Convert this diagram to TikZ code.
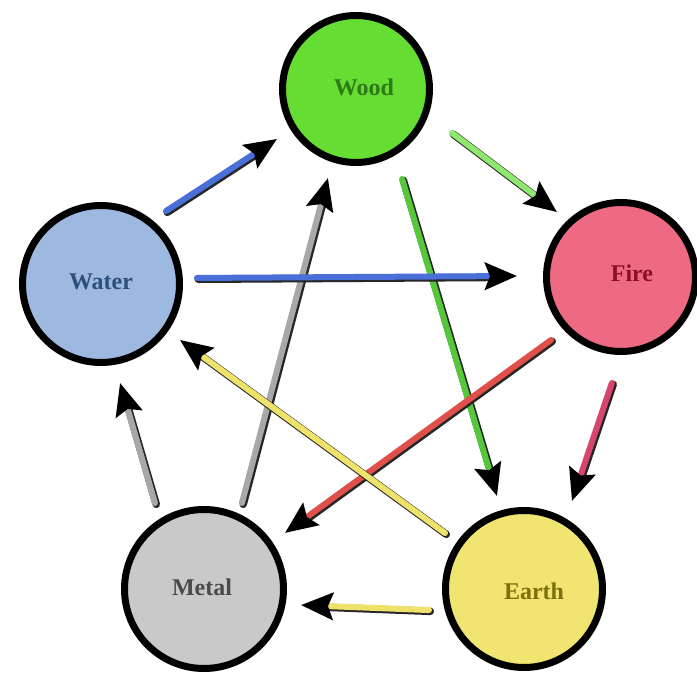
\documentclass[tikz,border=0pt]{standalone}
\usepackage{fontspec}
\setmainfont{Liberation Serif}
\usetikzlibrary{calc,arrows.meta}

% element fills and label colours
\definecolor{woodfill}{HTML}{66DD33}
\definecolor{woodtext}{HTML}{2E7A16}
\definecolor{waterfill}{HTML}{9DB9E0}
\definecolor{watertext}{HTML}{2C4F7C}
\definecolor{firefill}{HTML}{EE6A82}
\definecolor{firetext}{HTML}{8B0F2A}
\definecolor{metalfill}{HTML}{C9C9C9}
\definecolor{metaltext}{HTML}{4A4A4A}
\definecolor{earthfill}{HTML}{F0E570}
\definecolor{earthtext}{HTML}{7D6F10}

% shaft colours
\definecolor{shaftblue}{HTML}{4A6FD8}
\definecolor{shaftlightgreen}{HTML}{8EE86E}
\definecolor{shaftgreen}{HTML}{55C83A}
\definecolor{shaftpink}{HTML}{D6456A}
\definecolor{shaftred}{HTML}{E0504A}
\definecolor{shaftyellow}{HTML}{EEE26A}
\definecolor{shaftgray}{HTML}{A8A8AA}

% one tube-like arrow: dark under-stroke, coloured shaft, black head
\newcommand{\flowarrow}[3]{%
  \draw[shadestroke, transform canvas={shift={(1.3pt,-1.3pt)}}] #2 -- #3;
  \draw[shaft, #1] #2 -- #3;
}

\begin{document}
\begin{tikzpicture}[x=1pt,y=-1pt,
  element/.style={circle, draw=black, line width=7pt, inner sep=0pt},
  elabel/.style={font=\fontsize{24}{28}\selectfont\bfseries, inner sep=0pt},
  shaft/.style={line width=6pt, line cap=round,
    -{Stealth[length=32pt,width=27pt,inset=5pt,color=black]}},
  shadestroke/.style={line width=7.5pt, line cap=round, black!85, shorten >=24pt},
]
\useasboundingbox (0,0) rectangle (697,674);
\fill[white] (0,0) rectangle (697,674);
\clip (0,0) rectangle (697,674);

% the five elements
\node[element, fill=woodfill,  minimum size=147pt] (wood)  at (356,89)  {};
\node[element, fill=waterfill, minimum size=157pt] (water) at (101,284) {};
\node[element, fill=firefill,  minimum size=149pt] (fire)  at (621,277) {};
\node[element, fill=metalfill, minimum size=159pt] (metal) at (204,589) {};
\node[element, fill=earthfill, minimum size=157pt] (earth) at (524,589) {};

\node[elabel, text=woodtext]  (woodlabel)  at ($(wood)+(8,-2)$)   {Wood};
\node[elabel, text=watertext] (waterlabel) at ($(water)+(0,-2)$)  {Water};
\node[elabel, text=firetext]  (firelabel)  at ($(fire)+(11,-4)$)  {Fire};
\node[elabel, text=metaltext] (metallabel) at ($(metal)+(-2,-2)$) {Metal};
\node[elabel, text=earthtext] (earthlabel) at ($(earth)+(10,2)$)  {Earth};

% inner star
\flowarrow{shaftgray}{($(metal)+(-66.2:94)$)}{($(wood)+(107.5:93.3)$)}
\flowarrow{shaftgreen}{($(wood)+(62.9:101.1)$)}{($(earth)+(-106.2:96.8)$)}
\flowarrow{shaftred}{($(fire)+(138:94.2)$)}{($(metal)+(-34.7:98.5)$)}
\flowarrow{shaftyellow}{($(earth)+(-144.7:96.8)$)}{($(water)+(35.3:96.8)$)}
\flowarrow{shaftblue}{($(water)+(-3.6:96.2)$)}{($(fire)+(180.55:104)$)}

% outer cycle
\flowarrow{shaftblue}{($(water)+(-48.3:97.7)$)}{($(wood)+(147.7:93.5)$)}
\flowarrow{shaftlightgreen}{($(wood)+(24.6:105.6)$)}{($(fire)+(-134.6:91.2)$)}
\flowarrow{shaftpink}{($(fire)+(94.9:106.4)$)}{($(earth)+(-61.4:100.2)$)}
\flowarrow{shaftyellow}{($(earth)+(167.5:97.3)$)}{($(metal)+(9.4:98.3)$)}
\flowarrow{shaftgray}{($(metal)+(-119.7:99)$)}{($(water)+(79.1:100.8)$)}
\end{tikzpicture}
\end{document}
